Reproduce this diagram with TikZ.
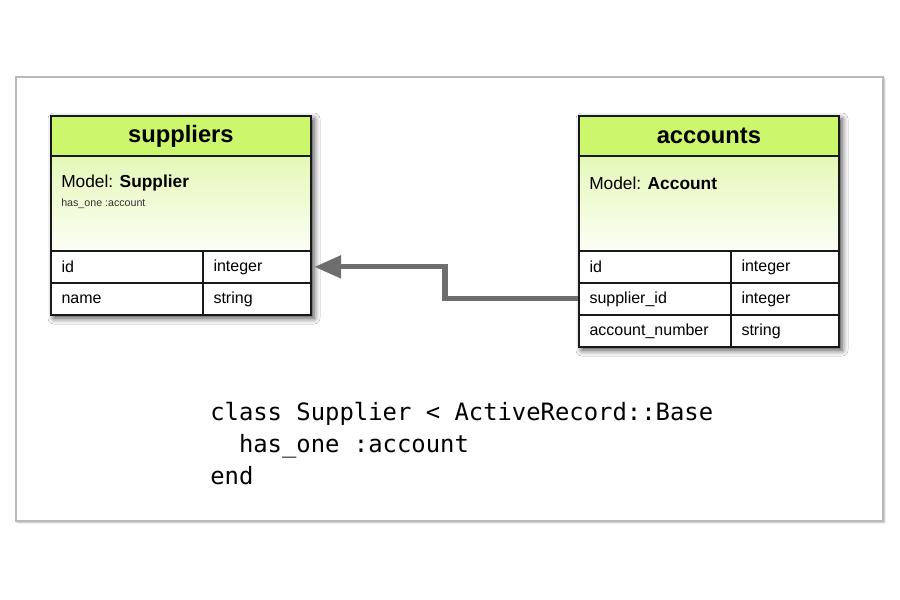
\documentclass[tikz,border=0pt]{standalone}
\usepackage{fontspec}
\setmainfont{Liberation Sans}
\setmonofont{DejaVu Sans Mono}
\usetikzlibrary{arrows.meta,shadows.blur,calc}
\definecolor{hdrgreen}{RGB}{204,246,108}
\definecolor{modeltop}{RGB}{228,248,184}
\definecolor{modelbot}{RGB}{252,255,246}
\definecolor{arrowgray}{RGB}{110,110,110}
\definecolor{tblline}{RGB}{25,25,25}
\definecolor{framegray}{RGB}{185,185,185}
\tikzset{
  tblshadow/.style={fill=white, blur shadow={shadow xshift=3pt, shadow yshift=-3pt, shadow blur radius=4.5pt, shadow opacity=75}},
  hdrbox/.style={draw=tblline, line width=1.3pt, fill=hdrgreen, minimum width=195pt, minimum height=30pt, anchor=north west, inner sep=0pt, font=\fontsize{17.8}{20}\selectfont\bfseries},
  modelbox/.style={draw=tblline, line width=1.3pt, top color=modeltop, bottom color=modelbot, minimum width=195pt, minimum height=72pt, anchor=north west, inner sep=0pt},
  modeltxt/.style={anchor=west, inner sep=0pt, font=\fontsize{13}{15}\selectfont},
  notetxt/.style={anchor=west, inner sep=0pt, font=\fontsize{8}{10}\selectfont, text=black!80},
  cellL/.style={draw=tblline, line width=1.3pt, fill=white, anchor=north west, minimum height=24pt, inner xsep=8pt, inner ysep=0pt, text width=114pt-16pt, align=left, font=\fontsize{12}{14}\selectfont},
  cellR/.style={draw=tblline, line width=1.3pt, fill=white, anchor=north west, minimum height=24pt, inner xsep=8pt, inner ysep=0pt, text width=81pt-16pt, align=left, font=\fontsize{12}{14}\selectfont},
  codetxt/.style={anchor=base west, inner sep=0pt, font=\fontsize{17.9}{24}\ttfamily},
  relarrow/.style={draw=arrowgray, line width=3.8pt, -{Triangle[length=20pt,width=16.5pt]}, shorten >=2pt}
}
\begin{document}
\begin{tikzpicture}[x=0.75pt,y=-0.75pt]
\useasboundingbox (0,0) rectangle (900,600);
% outer frame
\path[fill=white, blur shadow={shadow xshift=1pt, shadow yshift=-1pt, shadow blur radius=1.5pt, shadow opacity=30}] (16,77) rectangle (883,521);
\draw[framegray, line width=1.2pt] (16,77) rectangle (883,521);

% suppliers table
\path[tblshadow] (50,115) rectangle (310,314);
\node[hdrbox] (s-hdr) at (50,115) {suppliers};
\node[modelbox] (s-model) at (50,155) {};
\node[modeltxt] (s-modeltxt) at (61,183) {Model: \textbf{Supplier}};
\node[notetxt] (s-note) at (61,204) {has\_one :account};
\node[cellL] (s-id) at (50,250) {id};
\node[cellR] (s-idtype) at (202,250) {integer};
\node[cellL] (s-name) at (50,282) {name};
\node[cellR] (s-nametype) at (202,282) {string};

% accounts table
\path[tblshadow] (578,115) rectangle (838,346);
\node[hdrbox] (a-hdr) at (578,115) {accounts};
\node[modelbox] (a-model) at (578,155) {};
\node[modeltxt] (a-modeltxt) at (589,183) {Model: \textbf{Account}};
\node[cellL] (a-id) at (578,250) {id};
\node[cellR] (a-idtype) at (730,250) {integer};
\node[cellL] (a-sid) at (578,282) {supplier\_id};
\node[cellR] (a-sidtype) at (730,282) {integer};
\node[cellL] (a-num) at (578,314) {account\_number};
\node[cellR] (a-numtype) at (730,314) {string};

% relation arrow
\coordinate (bend) at (445,0);
\draw[relarrow] (a-sid.west) -| (bend |- s-idtype.east) -- (s-idtype.east);

% code
\node[codetxt] (code1) at (210,420) {class Supplier < ActiveRecord::Base};
\node[codetxt] (code2) at (210,452) {\ \ has\_one :account};
\node[codetxt] (code3) at (210,484) {end};
\end{tikzpicture}
\end{document}
